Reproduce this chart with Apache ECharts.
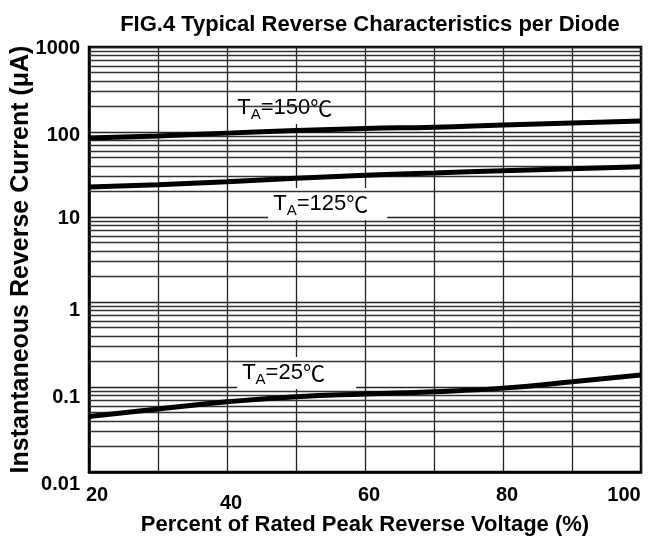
<!DOCTYPE html>
<html>
<head>
<meta charset="utf-8">
<script src="https://cdn.jsdelivr.net/npm/echarts@6/dist/echarts.min.js"></script>
<style>
html,body{margin:0;padding:0;background:#fff;}
#chart{width:656px;height:539px;}
</style>
</head>
<body>
<div id="chart"></div>
<script>
// ---- data ----
const voltagePct = [20, 30, 40, 50, 60, 70, 80, 90, 100];
const current150 = [85, 90, 97, 104, 110, 114, 121, 128, 135];
const current125 = [22.5, 24, 26, 28.5, 31, 33, 35, 37, 39];
const current25 = [0.045, 0.055, 0.067, 0.077, 0.083, 0.088, 0.097, 0.115, 0.138];
const seriesLabels = ['150', '125', '25'];
const yTickLabels = ['0.01', '0.1', '1', '10', '100', '1000'];
const xTickLabels = ['20', '40', '60', '80', '100'];
const titleText = 'FIG.4 Typical Reverse Characteristics per Diode';
const xName = 'Percent of Rated Peak Reverse Voltage (%)';
const yName = 'Instantaneous Reverse Current (\u03bcA)';

// log-paper minor grid values (2..9 x each decade)
const minorGrid = [];
[0.01, 0.1, 1, 10, 100].forEach(d => { for (let k = 2; k <= 9; k++) minorGrid.push(+(d * k).toPrecision(3)); });

const pairs = arr => voltagePct.map((x, i) => [x, arr[i]]);
const FONT = '"Liberation Sans", Arial, sans-serif';

const labelRich = {
  t: { fontSize: 22, fontFamily: FONT, color: '#000', lineHeight: 24, verticalAlign: 'middle' },
  s: { fontSize: 15, fontFamily: FONT, color: '#000', lineHeight: 24, padding: [13, 0, 0, 0], verticalAlign: 'middle' },
  c: { fontSize: 22, fontFamily: '"Noto Sans CJK SC", sans-serif', fontWeight: 'normal', color: '#000', lineHeight: 24, verticalAlign: 'middle' }
};
function tempLabel(coord, temp) {
  return {
    coord: coord,
    symbol: 'circle',
    symbolSize: 1,
    itemStyle: { color: 'rgba(0,0,0,0)' },
    label: {
      show: true,
      position: 'right',
      distance: 0,
      formatter: '{t|T}{s|A}{t|=' + temp + '}{c|\u2103}',
      rich: labelRich,
      backgroundColor: '#fff',
      padding: [4, 5, 4, 5],
      width: 109,
      align: 'left'
    }
  };
}

// vertical shift (px) of each y tick label below its gridline, as in the reference
const yOffsets = { '0.01': 12, '0.1': 10, '1': 8, '10': 1, '100': 3, '1000': 1 };
const yRich = {};
Object.keys(yOffsets).forEach((k, i) => {
  yRich['y' + i] = { fontFamily: FONT, fontSize: 20, fontWeight: 'bold', color: '#000', padding: [yOffsets[k] * 2, 0, 0, 0] };
});
const yKeys = Object.keys(yOffsets);

const xStyle = p => ({ fontFamily: FONT, fontSize: 20, fontWeight: 'bold', color: '#000', padding: p });

const chart = echarts.init(document.getElementById('chart'), null, { renderer: 'canvas' });
chart.setOption({
  animation: false,
  backgroundColor: '#fff',
  title: {
    text: titleText,
    left: 365, top: 9, textAlign: 'center',
    textStyle: { fontFamily: FONT, fontSize: 22, fontWeight: 'bold', color: '#000' }
  },
  grid: { left: 89, right: 15, top: 47, bottom: 67, outerBoundsMode: 'none', containLabel: false,
          show: true, borderColor: '#000', borderWidth: 2.5, backgroundColor: '#fff' },
  xAxis: {
    type: 'value', min: 20, max: 100, interval: 10,
    name: xName, nameLocation: 'middle', nameGap: 42, nameMoveOverlap: false,
    nameTextStyle: { fontFamily: FONT, fontSize: 22, fontWeight: 'bold', color: '#000' },
    axisLine: { show: true, lineStyle: { color: '#000', width: 2.5 } },
    axisTick: { show: false },
    splitLine: { show: true, lineStyle: { color: '#222', width: 1.3 } },
    axisLabel: {
      margin: 13,
      formatter: v => {
        const s = String(v);
        if (xTickLabels.indexOf(s) < 0) return '';
        if (s === '20') return '{l|' + s + '}';
        if (s === '100') return '{r|' + s + '}';
        if (s === '40') return '{d|' + s + '}';
        return '{n|' + s + '}';
      },
      rich: {
        n: xStyle([0, 0, 0, 8]),
        d: xStyle([8, 0, 0, 8]),
        l: xStyle([0, 0, 0, 16]),
        r: xStyle([0, 34, 0, 0])
      }
    }
  },
  yAxis: {
    type: 'log', logBase: 10, min: 0.01, max: 1000,
    name: yName, nameLocation: 'middle', nameGap: 55, nameRotate: 90, nameMoveOverlap: false,
    nameTextStyle: { fontFamily: FONT, fontSize: 25, fontWeight: 'bold', color: '#000' },
    axisLine: { show: true, lineStyle: { color: '#000', width: 2.5 } },
    axisTick: { show: false },
    splitLine: { show: true, lineStyle: { color: '#222', width: 1.3 } },
    axisLabel: {
      margin: 9,
      formatter: v => {
        const i = yKeys.findIndex(t => Math.abs(parseFloat(t) - v) / v < 1e-6);
        return i < 0 ? '' : '{y' + i + '|' + yKeys[i] + '}';
      },
      rich: yRich
    }
  },
  series: [
    {
      type: 'line', name: 'grid', data: [], silent: true, z: 1,
      markLine: {
        silent: true, symbol: 'none', animation: false,
        label: { show: false },
        lineStyle: { color: '#333', width: 1.3, type: 'solid' },
        data: minorGrid.map(v => ({ yAxis: v }))
      }
    },
    {
      type: 'line', name: seriesLabels[0], data: pairs(current150), smooth: true, showSymbol: false,
      lineStyle: { color: '#000', width: 5 }, z: 5,
      markPoint: { data: [tempLabel([40.7, 191], seriesLabels[0])], z: 4 }
    },
    {
      type: 'line', name: seriesLabels[1], data: pairs(current125), smooth: true, showSymbol: false,
      lineStyle: { color: '#000', width: 5 }, z: 5,
      markPoint: { data: [tempLabel([45.9, 14.2], seriesLabels[1])], z: 4 }
    },
    {
      type: 'line', name: seriesLabels[2], data: pairs(current25), smooth: true, showSymbol: false,
      lineStyle: { color: '#000', width: 5 }, z: 5,
      markPoint: { data: [tempLabel([41.4, 0.146], seriesLabels[2])], z: 4 }
    }
  ]
});
</script>
</body>
</html>
